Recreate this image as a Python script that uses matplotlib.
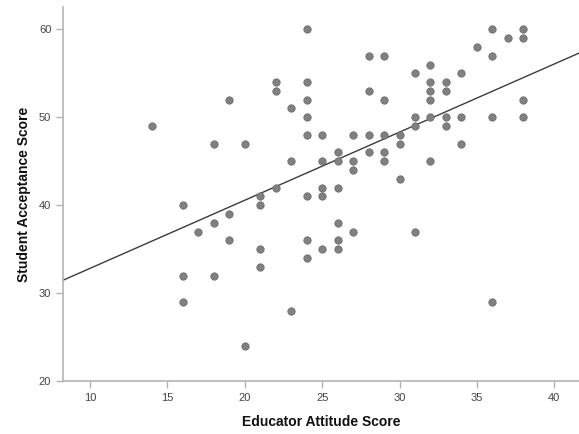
import numpy as np
import matplotlib
matplotlib.use('Agg')
import matplotlib.pyplot as plt

# Educator attitude (x) vs student acceptance (y)
educator = [14,
            16, 16, 16,
            17,
            18, 18, 18,
            19, 19, 19,
            20, 20,
            21, 21, 21, 21,
            22, 22, 22,
            23, 23, 23,
            24, 24, 24, 24, 24, 24, 24, 24,
            25, 25, 25, 25, 25,
            26, 26, 26, 26, 26, 26,
            27, 27, 27, 27,
            28, 28, 28, 28,
            29, 29, 29, 29, 29,
            30, 30, 30,
            31, 31, 31, 31,
            32, 32, 32, 32, 32, 32,
            33, 33, 33, 33,
            34, 34, 34,
            35,
            36, 36, 36, 36,
            37,
            38, 38, 38, 38]
student = [49,
           40, 32, 29,
           37,
           47, 38, 32,
           52, 39, 36,
           47, 24,
           41, 40, 35, 33,
           54, 53, 42,
           51, 45, 28,
           60, 54, 52, 50, 48, 41, 36, 34,
           48, 45, 42, 41, 35,
           46, 45, 42, 38, 36, 35,
           48, 45, 44, 37,
           57, 53, 48, 46,
           57, 52, 48, 46, 45,
           48, 47, 43,
           55, 50, 49, 37,
           56, 54, 53, 52, 50, 45,
           54, 53, 50, 49,
           55, 50, 47,
           58,
           60, 57, 50, 29,
           59,
           60, 59, 52, 50]

x_ticks = [10, 15, 20, 25, 30, 35, 40]
y_ticks = [20, 30, 40, 50, 60]

plt.rcParams['font.family'] = ['Liberation Sans', 'DejaVu Sans']

fig = plt.figure(figsize=(5.79, 4.34), dpi=100)
ax = fig.add_axes([0.109, 0.122, 0.891, 0.861])

ax.scatter(educator, student, s=28, color='#808080', edgecolors='#6e6e6e',
           linewidths=0.6, zorder=3)

# least squares fit line across the whole x range
x0, x1 = 8.26, 41.6
slope, intercept = np.polyfit(educator, student, 1)
xs = np.array([x0, x1])
ax.plot(xs, intercept + slope * xs, color='#3c3c3c', lw=1.0, zorder=2)

ax.set_xlim(x0, x1)
ax.set_ylim(20, 62.5)
ax.set_xticks(x_ticks)
ax.set_yticks(y_ticks)

for side in ('top', 'right'):
    ax.spines[side].set_visible(False)
for side in ('left', 'bottom'):
    ax.spines[side].set_color('#b4b4b4')
    ax.spines[side].set_linewidth(1.2)
ax.tick_params(colors='#b4b4b4', labelcolor='#444444', labelsize=8,
               length=5, width=1, direction='out')

ax.set_xlabel('Educator Attitude Score', fontsize=10, fontweight='bold',
              color='#111111', labelpad=9)
ax.set_ylabel('Student Acceptance Score', fontsize=10, fontweight='bold',
              color='#111111', labelpad=6)

fig.savefig('out.png', dpi=100)
